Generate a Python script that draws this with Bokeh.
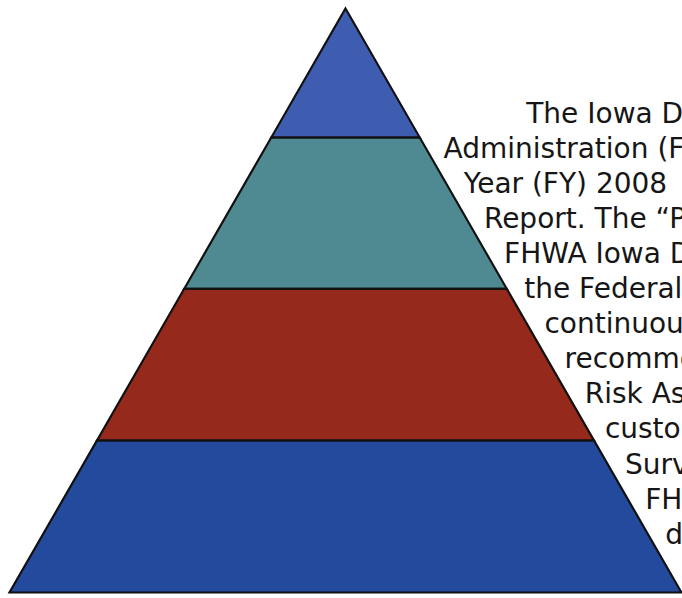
from bokeh.plotting import figure
from bokeh.models import Range1d, ColumnDataSource
from bokeh.embed import file_html
from bokeh.resources import INLINE

# ---- data ----
tier_names = ["Top", "Second", "Third", "Base"]
tier_share = [22.1, 25.9, 26.0, 26.0]          # percent of pyramid height, top to bottom
tier_colors = ["#3f5db0", "#4f8a92", "#952a1c", "#244a9d"]

text_lines = [
    "The Iowa Di",
    "Administration (F",
    "Year (FY) 2008",
    "Report. The \u201cP",
    "FHWA Iowa D",
    "the Federal",
    "continuou",
    "recomme",
    "Risk As",
    "custo",
    "Surv",
    "FH",
    "d",
]

# ---- layout ----
W, H = 682, 598
HALF_BASE = 50.0
TOP = 100.0

p = figure(width=W, height=H, output_backend="svg", toolbar_location=None,
           x_range=Range1d(-51.34, 50.15), y_range=Range1d(-1.03, 101.37),
           min_border=0)
p.axis.visible = False
p.grid.visible = False
p.outline_line_color = None
p.background_fill_color = "white"
p.border_fill_color = "white"

def half_width(y):
    return HALF_BASE * (1 - y / TOP)

# build tier polygons from shares (top to bottom)
xs, ys = [], []
upper = TOP
for share in tier_share:
    lower = max(upper - share, 0.0)
    hu, hl = half_width(upper), half_width(lower)
    if hu < 1e-9:
        xs.append([0, hl, -hl]); ys.append([upper, lower, lower])
    else:
        xs.append([-hu, hu, hl, -hl]); ys.append([upper, upper, lower, lower])
    upper = lower

src = ColumnDataSource(dict(xs=xs, ys=ys, color=tier_colors, name=tier_names))
p.patches("xs", "ys", source=src, fill_color="color", line_color="#111111",
          line_width=2.2, line_join="miter")

# text lines wrapped along the right slope
first_base = 82.0
spacing = 6.0
gap = 2.6
first_indent = 15.3
tx, ty = [], []
for i, t in enumerate(text_lines):
    y = first_base - i * spacing
    x = half_width(y) + gap + (first_indent if i == 0 else 0.0)
    tx.append(x); ty.append(y)

tsrc = ColumnDataSource(dict(x=tx, y=ty, text=text_lines))
p.text("x", "y", text="text", source=tsrc, text_font_size="28px",
       text_font={"value": "DejaVu Sans"}, text_color="#161616",
       text_align="left", text_baseline="alphabetic")

open("out.html", "w").write(file_html(p, INLINE))
